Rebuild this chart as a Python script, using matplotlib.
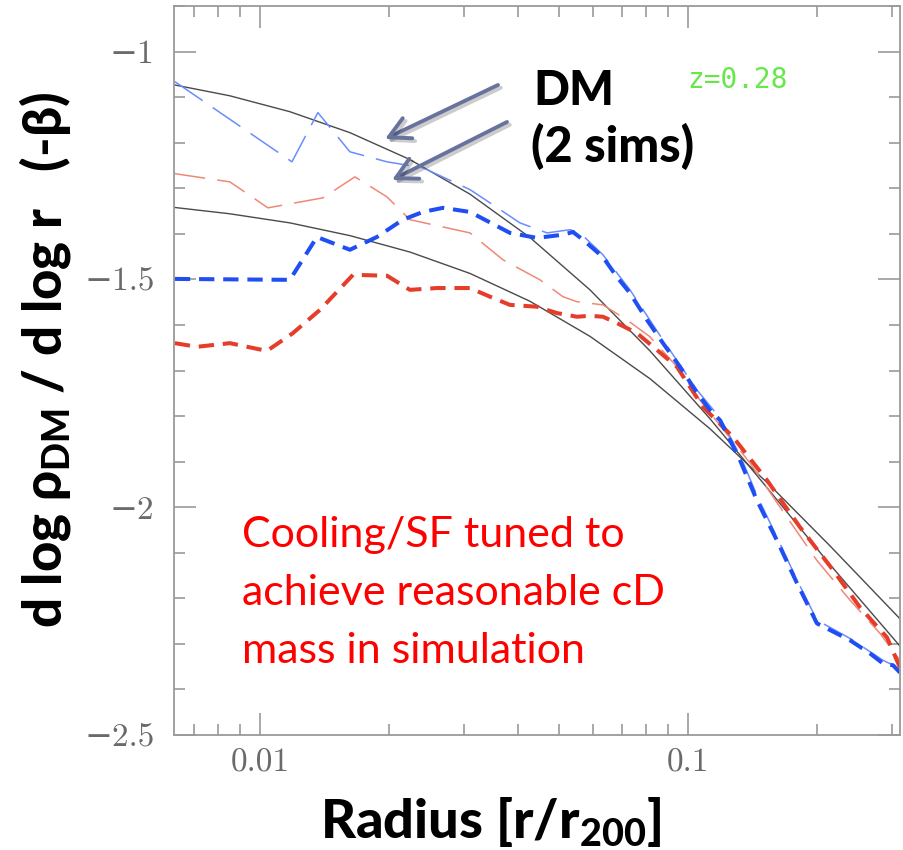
import matplotlib
matplotlib.use("Agg")
import matplotlib.pyplot as plt
from matplotlib import patheffects
from matplotlib.ticker import MultipleLocator, NullFormatter, FixedLocator

plt.rcParams['mathtext.fontset'] = 'custom'
plt.rcParams['mathtext.rm'] = 'Lato'
plt.rcParams['mathtext.bf'] = 'Lato:black'

# smooth fitted profiles (black curves)
fit_r = [0.0063, 0.0085, 0.01175, 0.01623, 0.02241, 0.03096, 0.04273,
         0.05902, 0.08151, 0.1126, 0.1554, 0.2147, 0.3128]
fit_a = [-1.073, -1.097, -1.132, -1.178, -1.237, -1.313, -1.408,
         -1.523, -1.657, -1.806, -1.965, -2.126, -2.305]
fit_b = [-1.342, -1.356, -1.376, -1.404, -1.440, -1.487, -1.548,
         -1.625, -1.718, -1.828, -1.952, -2.085, -2.245]

# DM-only runs (thin long dashes)
dm_blue_r = [0.00633, 0.01188, 0.01366, 0.01623, 0.01981, 0.02403, 0.03096,
             0.03447, 0.0405, 0.04685, 0.053, 0.05593, 0.06329, 0.0732,
             0.08742, 0.105, 0.1188, 0.1323, 0.1449, 0.1614, 0.1798,
             0.2001, 0.239, 0.2855, 0.3128]
dm_blue = [-1.066, -1.242, -1.134, -1.220, -1.242, -1.255, -1.303,
           -1.332, -1.376, -1.398, -1.391, -1.398, -1.446, -1.523,
           -1.633, -1.743, -1.804, -1.886, -1.974, -2.066, -2.160,
           -2.248, -2.288, -2.336, -2.354]

dm_red_r = [0.00633, 0.008509, 0.01044, 0.01404, 0.01667, 0.01981, 0.02241,
            0.02677, 0.03096, 0.03696, 0.0451, 0.05103, 0.05503, 0.06329,
            0.07204, 0.08151, 0.09425, 0.1066, 0.1396, 0.1703, 0.2001,
            0.239, 0.2809, 0.3128]
dm_red = [-1.268, -1.286, -1.343, -1.321, -1.275, -1.319, -1.369,
          -1.385, -1.398, -1.457, -1.501, -1.538, -1.549, -1.556,
          -1.589, -1.626, -1.692, -1.765, -1.903, -2.022, -2.117,
          -2.204, -2.277, -2.336]

# runs with cooling/SF (thick dashes)
sf_blue_r = [0.00633, 0.01175, 0.01359, 0.01623, 0.01876, 0.02158, 0.02403,
             0.02677, 0.03096, 0.03838, 0.04437, 0.05103, 0.05386, 0.05685,
             0.06329, 0.06826, 0.0732, 0.0802, 0.08742, 0.0958, 0.105,
             0.1126, 0.1188, 0.1323, 0.1449, 0.1614, 0.1798, 0.2001,
             0.239, 0.2662, 0.2855, 0.3013, 0.3128]
sf_blue = [-1.499, -1.501, -1.407, -1.435, -1.407, -1.369, -1.352,
           -1.343, -1.352, -1.398, -1.409, -1.402, -1.396, -1.413,
           -1.451, -1.495, -1.530, -1.589, -1.640, -1.692, -1.749,
           -1.787, -1.809, -1.897, -1.985, -2.073, -2.167, -2.255,
           -2.292, -2.321, -2.343, -2.347, -2.363]

sf_red_r = [0.00633, 0.007124, 0.008509, 0.010385, 0.01194, 0.01381, 0.0165,
            0.01981, 0.02241, 0.02592, 0.03096, 0.03447, 0.03838, 0.04437,
            0.04942, 0.05503, 0.05902, 0.06329, 0.06826, 0.07599, 0.08465,
            0.09425, 0.1084, 0.1274, 0.153, 0.1827, 0.2182, 0.2523,
            0.2917, 0.3128]
sf_red = [-1.640, -1.648, -1.640, -1.657, -1.618, -1.567, -1.490,
          -1.492, -1.523, -1.519, -1.519, -1.538, -1.556, -1.560,
          -1.574, -1.582, -1.580, -1.582, -1.596, -1.618, -1.655,
          -1.692, -1.780, -1.846, -1.941, -2.044, -2.138, -2.220,
          -2.286, -2.352]

y_ticks = [-2.5, -2, -1.5, -1]
y_tick_labels = ['\u22122.5', '\u22122', '\u22121.5', '\u22121']
x_ticks = [0.01, 0.1]
x_tick_labels = ['0.01', '0.1']

note_lines = ['Cooling/SF tuned to', 'achieve reasonable cD', 'mass in simulation']

W, H = 904, 850
fig = plt.figure(figsize=(W / 100, H / 100), dpi=100)
ax = fig.add_axes([174 / W, 1 - 735 / H, 726 / W, 729 / H])

ax.plot(fit_r, fit_a, color='#4a4a4a', lw=1.0)
ax.plot(fit_r, fit_b, color='#4a4a4a', lw=1.0)
ax.plot(dm_red_r, dm_red, color='#f08878', lw=1.1, dashes=(20, 8))
ax.plot(dm_blue_r, dm_blue, color='#6a8cff', lw=1.1, dashes=(22, 8))
ax.plot(sf_red_r, sf_red, color='#e63c2a', lw=2.9, dashes=(3.8, 2.2))
ax.plot(sf_blue_r, sf_blue, color='#1f4ff2', lw=2.9, dashes=(3.8, 2.2))

ax.set_xscale('log')
ax.set_xlim(0.0063, 0.3128)
ax.set_ylim(-2.5, -0.9)

ax.xaxis.set_major_locator(FixedLocator(x_ticks))
ax.set_xticklabels(x_tick_labels)
ax.xaxis.set_minor_formatter(NullFormatter())
ax.set_yticks(y_ticks)
ax.set_yticklabels(y_tick_labels)
ax.yaxis.set_minor_locator(MultipleLocator(0.1))

for lab in ax.get_xticklabels() + ax.get_yticklabels():
    lab.set_family(['cmr10', 'DejaVu Sans'])
    lab.set_fontsize(24)
    lab.set_color('#6a6a6a')

ax.tick_params(which='both', direction='in', top=True, right=True,
               color='#9a9a9a', width=1.2)
ax.tick_params(which='major', length=16)
ax.tick_params(which='minor', length=8)
ax.tick_params(axis='y', which='major', pad=14)
ax.tick_params(axis='x', which='major', pad=10)
for s in ax.spines.values():
    s.set_color('#9a9a9a')
    s.set_linewidth(1.3)

bold = dict(family=['Lato', 'DejaVu Sans'], weight='black', color='black')
fig.text(45 / W, 1 - 360 / H, 'd log \u03c1$_{\\mathbf{DM}}$ / d log r   (-\u03b2)',
         rotation=90, ha='center', va='center', fontsize=38, **bold)
fig.text(491 / W, 1 - 838 / H, 'Radius [r/r$_{\\mathbf{200}}$]',
         ha='center', va='baseline', fontsize=39, **bold)

fig.text(533 / W, 1 - 105 / H, 'DM', ha='left', va='baseline', fontsize=34, **bold)
fig.text(531 / W, 1 - 162 / H, '(2 sims)', ha='left', va='baseline', fontsize=35, **bold)
fig.text(687 / W, 1 - 88 / H, 'z=0.28', ha='left', va='baseline',
         fontsize=20, family='DejaVu Sans Mono', color='#66e84a')

for i, line in enumerate(note_lines):
    fig.text(242 / W, 1 - (547 + 58 * i) / H, line, ha='left', va='baseline',
             fontsize=31, family=['Lato', 'DejaVu Sans'], color='#ff0000')

arrows = [((498, 85), (385, 139)), ((507, 122), (392, 180))]
for (x0, y0), (x1, y1) in arrows:
    arr = fig.add_artist(matplotlib.patches.FancyArrowPatch(
        (x0 / W, 1 - y0 / H), (x1 / W, 1 - y1 / H), transform=fig.transFigure,
        arrowstyle='->,head_length=0.75,head_width=0.4', mutation_scale=20,
        color='#67739d', lw=2.8, shrinkA=0, shrinkB=0))
    arr.set_path_effects([patheffects.SimpleLineShadow(offset=(2, -2), alpha=0.2),
                          patheffects.Normal()])

fig.savefig('out.png', dpi=100)
